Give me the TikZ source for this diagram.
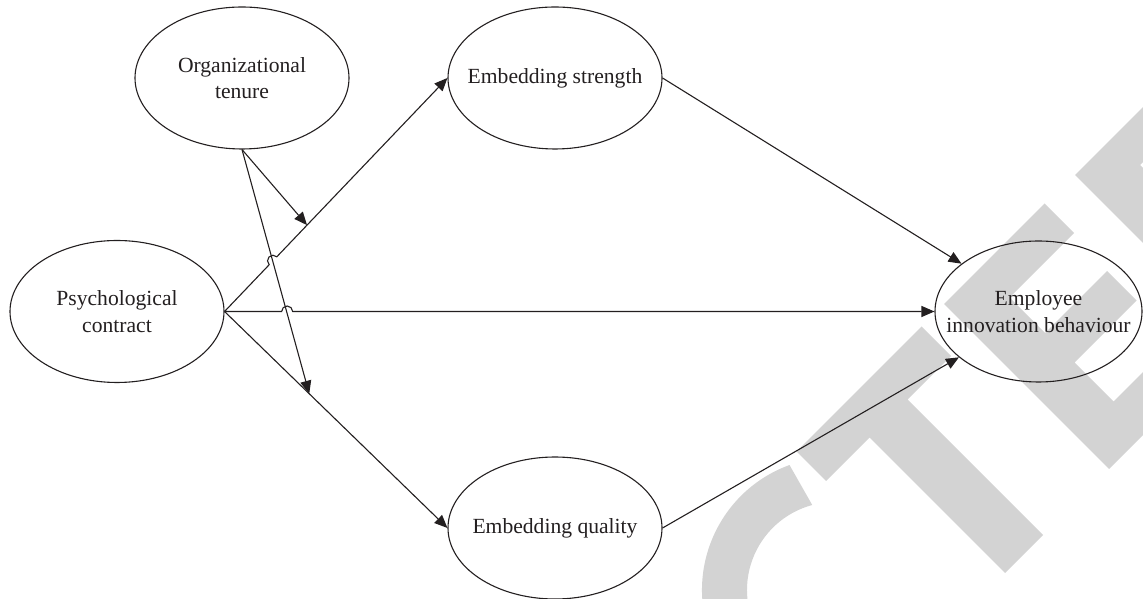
\documentclass[tikz,border=0pt]{standalone}
\usepackage{fontspec}
\setmainfont{Liberation Serif}
\usetikzlibrary{shapes.geometric,arrows.meta,calc}
\definecolor{ink}{RGB}{35,31,32}
\definecolor{wm}{RGB}{211,211,211}
\tikzset{
  ell/.style={draw=ink, line width=1.1pt, ellipse, inner sep=0pt, minimum width=214pt, minimum height=142pt},
  lbl/.style={align=center, text=ink, font=\fontsize{21.6}{26.5}\selectfont},
  conn/.style={draw=ink, line width=1.1pt},
  arr/.style={conn, -{Triangle[length=13pt,width=11pt]}},
  wmark/.style={fill=wm, draw=none}
}
\begin{document}
\begin{tikzpicture}[x=1pt,y=1pt]
\useasboundingbox (0,0) rectangle (1143,599);
% watermark
\begin{scope}
\clip (0,0) rectangle (1143,599);
\fill[wmark] (796.5,147.5) -- (921.5,272.5) -- (951,243) -- (907.5,199.5) -- (1043,64) -- (1005,26) -- (869.5,161.5) -- (826,118) -- cycle;
\fill[wmark] (944,295) -- (1044.5,395.5) -- (1074,366) -- (1009.5,301.5) -- (1045,266) -- (1107,328) -- (1136.5,298.5) -- (1074.5,236.5) -- (1113.5,197.5) -- (1192.5,276.5) -- (1224,245) -- (1109,130) -- cycle;
\fill[wmark] (1075,424) -- (1225,574) -- (1252.5,546.5) -- (1140,434) -- (1276.5,297.5) -- (1239,260) -- cycle;
\fill[wmark] ($(835,9)+(110:133)$) arc[start angle=110,end angle=340,radius=133] -- ($(835,9)+(340:88)$) arc[start angle=340,end angle=105,radius=88] -- cycle;
\end{scope}
% nodes
\node[ell] (tenure) at (242,521) {};
\node[ell] (strength) at (555,521) {};
\node[ell] (psych) at (117,287.5) {};
\node[ell] (quality) at (555,71) {};
\node[ell, minimum width=207pt, minimum height=141pt] (employee) at (1038.5,287.5) {};
\node[lbl] (tenuret) at (tenure) {Organizational\\tenure};
\node[lbl] (strengtht) at (strength) {Embedding strength};
\node[lbl] (psycht) at (psych) {Psychological\\contract};
\node[lbl] (qualityt) at (quality) {Embedding quality};
\node[lbl] (employeet) at (employee) {Employee\\innovation behaviour};
% moderation points
\coordinate (m1) at ($(psych.east)!0.37!(strength.west)$);
\coordinate (m2) at ($(psych.east)!0.38!(quality.west)$);
\coordinate (h1) at ($(psych.east)!0.2003!(strength.west)$);
\coordinate (h2) at ($(psych.east)+(57.1,0)$);
% connectors
\draw[arr] (psych.east) -- (h1) arc[start angle=226.2,end angle=46.2,radius=5.5] -- (strength.west);
\draw[arr] (psych.east) -- (h2) arc[start angle=180,end angle=0,radius=5.5] -- (employee.west);
\draw[arr] (psych.east) -- (quality.west);
\draw[arr] (strength.east) -- (employee);
\draw[arr] (quality.east) -- (employee);
\draw[arr] (tenure.south) -- (m1);
\draw[arr] (tenure.south) -- (m2);
\end{tikzpicture}
\end{document}
